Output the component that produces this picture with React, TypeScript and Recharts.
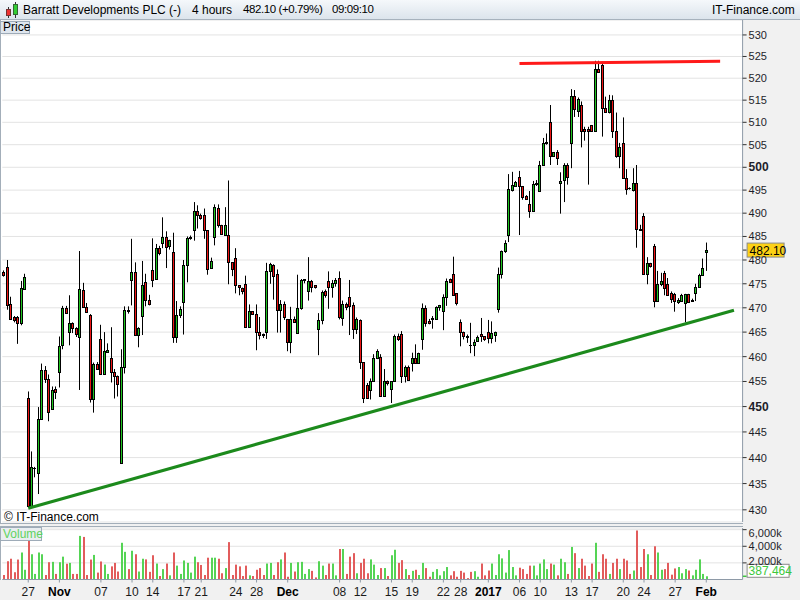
import React from 'react';
import { ComposedChart, Bar, XAxis, YAxis, CartesianGrid, ReferenceLine } from 'recharts';

// 4-hour candles, 25 Oct 2016 .. 1 Feb 2017
const opens = [
  477.4, 478.6, 470.7, 468.1, 468.2, 466.8, 473.9, 451.8, 430.8, 437.9,
  437.0, 447.6, 457.3, 455.5, 449.5, 453.4, 456.9, 462.3, 469.9, 465.1,
  466.9, 465.9, 464.0, 473.6, 470.1, 468.6, 451.6, 458.6, 463.6, 456.6,
  460.9, 459.8, 457.0, 456.0, 439.0, 458.0, 469.6, 475.7, 477.5, 464.5,
  468.3, 475.4, 471.7, 477.8, 475.9, 482.5, 483.6, 484.9, 482.9, 481.6,
  464.0, 468.6, 471.2, 479.0, 484.7, 486.3, 490.5, 489.5, 489.6, 486.3,
  478.3, 484.9, 491.1, 487.5, 485.3, 485.3, 479.5, 480.4, 474.7, 474.2,
  475.0, 466.1, 469.3, 468.8, 465.0, 464.7, 465.0, 477.6, 479.0, 477.1,
  469.5, 470.8, 467.7, 462.9, 467.7, 464.8, 470.0, 475.7, 473.5, 475.6,
  474.7, 465.6, 467.5, 473.5, 475.6, 474.4, 475.2, 476.3, 467.8, 470.8,
  472.2, 470.6, 465.6, 467.5, 458.9, 454.2, 453.2, 455.0, 459.8, 460.0,
  452.1, 455.0, 453.4, 455.0, 464.3, 464.6, 456.0, 457.9, 458.8, 459.7,
  458.8, 463.5, 470.0, 467.2, 467.6, 467.6, 470.2, 469.4, 472.3, 476.0,
  477.1, 473.0, 467.1, 465.1, 464.2, 462.4, 462.3, 463.2, 464.7, 464.2,
  465.0, 463.7, 464.5, 469.7, 477.0, 481.8, 485.3, 495.1, 495.9, 497.8,
  495.9, 493.7, 492.0, 490.4, 496.4, 494.9, 500.5, 505.4, 510.0, 502.5,
  503.3, 496.6, 497.1, 500.5, 505.4, 515.9, 512.5, 514.0, 508.5, 508.5,
  509.4, 508.0, 522.0, 523.1, 513.2, 512.3, 515.1, 508.0, 502.4, 505.4,
  497.6, 495.5, 495.1, 496.5, 486.6, 489.3, 477.0, 479.4, 482.9, 471.5,
  474.9, 477.2, 475.0, 473.1, 472.9, 471.2, 471.5, 471.0, 472.8, 471.4,
  473.1, 474.4, 476.8, 481.6,
];

const highs = [
  477.8, 480.0, 472.3, 468.3, 468.3, 475.6, 477.1, 453.0, 441.2, 438.2,
  449.9, 458.6, 458.1, 456.4, 454.0, 454.0, 464.1, 470.4, 470.4, 472.6,
  467.0, 466.0, 481.9, 475.2, 471.0, 468.7, 458.8, 458.9, 466.5, 465.0,
  462.7, 466.0, 457.5, 456.2, 461.5, 470.3, 470.3, 484.5, 479.5, 466.0,
  479.8, 477.1, 472.7, 484.6, 483.4, 483.0, 489.1, 486.1, 484.3, 485.8,
  471.4, 470.3, 480.0, 485.0, 485.2, 492.4, 491.7, 489.9, 491.0, 486.3,
  480.5, 491.9, 491.9, 487.5, 491.3, 497.1, 479.5, 482.5, 474.7, 474.2,
  476.7, 470.7, 469.3, 470.7, 468.1, 464.7, 479.4, 479.4, 479.1, 478.0,
  471.6, 471.3, 467.7, 470.2, 468.2, 476.9, 476.0, 476.0, 480.6, 475.8,
  474.7, 468.9, 473.6, 473.8, 477.6, 475.8, 476.2, 477.6, 471.5, 471.1,
  475.8, 471.1, 468.0, 467.6, 458.9, 454.7, 455.6, 460.5, 461.5, 460.5,
  457.5, 455.2, 455.0, 464.5, 464.7, 465.2, 458.2, 458.2, 460.8, 462.5,
  460.8, 470.9, 470.5, 467.7, 468.3, 470.3, 470.6, 472.8, 476.1, 476.1,
  480.7, 473.0, 467.6, 465.1, 464.5, 466.9, 463.5, 464.3, 467.9, 464.2,
  467.5, 467.2, 465.1, 478.4, 482.0, 484.2, 498.5, 499.0, 497.0, 499.2,
  495.9, 493.9, 494.8, 497.0, 497.2, 501.4, 506.5, 507.5, 513.9, 503.3,
  503.8, 498.9, 500.9, 500.9, 517.5, 517.3, 515.6, 514.7, 509.0, 509.0,
  509.4, 524.0, 524.0, 523.8, 515.8, 516.2, 516.1, 512.2, 505.4, 511.1,
  499.6, 495.6, 499.8, 500.5, 487.5, 490.0, 480.6, 479.4, 483.4, 477.7,
  477.3, 477.7, 476.2, 473.4, 473.1, 472.0, 472.9, 472.9, 472.9, 471.9,
  475.0, 477.1, 480.3, 483.7,
];

const lows = [
  476.5, 469.6, 467.5, 467.0, 462.6, 466.4, 473.9, 430.5, 430.5, 436.2,
  433.0, 447.4, 454.7, 447.1, 449.4, 451.5, 453.8, 461.5, 469.0, 462.3,
  464.8, 464.0, 453.3, 470.0, 469.2, 450.8, 448.8, 457.6, 456.6, 456.5,
  460.9, 454.8, 451.6, 452.0, 438.8, 456.6, 468.8, 470.5, 464.4, 461.9,
  464.4, 470.3, 470.5, 474.3, 475.9, 481.0, 482.5, 478.3, 482.2, 462.8,
  462.8, 467.9, 464.5, 475.3, 484.3, 484.1, 486.7, 488.6, 484.5, 476.9,
  478.3, 483.1, 486.9, 485.4, 485.3, 474.9, 476.6, 473.0, 472.6, 472.8,
  466.1, 466.1, 468.6, 461.3, 463.5, 463.8, 463.6, 475.0, 471.7, 464.9,
  464.9, 467.5, 461.1, 460.7, 466.9, 464.8, 469.6, 475.1, 471.5, 473.2,
  474.0, 460.3, 466.6, 472.1, 469.8, 472.1, 474.4, 467.6, 466.3, 469.5,
  464.4, 463.6, 464.6, 457.5, 450.7, 451.7, 451.4, 455.0, 459.5, 452.1,
  452.1, 454.2, 450.7, 455.0, 463.2, 454.7, 454.8, 455.2, 457.0, 458.8,
  458.8, 461.4, 466.1, 466.6, 465.7, 467.6, 469.4, 465.4, 470.4, 475.2,
  472.7, 470.5, 462.1, 463.5, 462.8, 460.7, 460.1, 463.0, 463.0, 463.2,
  462.7, 462.7, 463.0, 469.0, 476.1, 481.5, 483.8, 494.7, 495.9, 485.3,
  492.9, 492.9, 489.0, 490.4, 495.9, 494.9, 500.5, 505.0, 500.5, 502.4,
  500.5, 489.9, 492.4, 496.2, 499.8, 511.2, 511.2, 504.4, 505.9, 496.2,
  508.0, 508.0, 521.3, 506.8, 512.3, 512.0, 506.5, 502.1, 499.8, 497.6,
  494.0, 495.1, 494.7, 482.6, 486.2, 477.0, 474.9, 478.4, 470.1, 471.5,
  474.5, 472.6, 472.6, 471.0, 469.2, 470.8, 471.3, 467.0, 471.0, 471.3,
  471.4, 474.2, 476.8, 477.7,
];

const closes = [
  476.8, 470.6, 467.6, 467.5, 466.9, 474.2, 476.4, 430.8, 438.1, 438.0,
  447.6, 457.3, 455.5, 449.0, 453.3, 452.8, 462.1, 469.9, 469.0, 466.9,
  465.9, 464.6, 474.0, 470.1, 469.2, 451.6, 458.6, 457.6, 456.6, 461.2,
  461.4, 457.0, 456.0, 454.5, 458.0, 469.5, 469.4, 477.5, 464.5, 465.8,
  474.7, 471.6, 470.7, 475.7, 482.5, 481.4, 484.9, 482.7, 484.3, 464.0,
  468.6, 469.7, 479.0, 484.6, 484.9, 490.5, 489.5, 489.0, 486.3, 478.1,
  479.8, 491.3, 487.4, 485.5, 487.4, 479.5, 478.0, 474.7, 474.4, 473.4,
  466.1, 469.3, 468.8, 465.0, 464.5, 464.4, 477.6, 479.1, 476.6, 469.5,
  470.8, 468.1, 462.9, 467.7, 467.1, 470.0, 475.7, 475.9, 475.6, 474.4,
  474.4, 467.5, 473.3, 472.6, 474.4, 475.1, 475.7, 468.0, 470.8, 470.2,
  470.4, 465.6, 467.6, 458.9, 451.7, 451.7, 455.0, 459.8, 461.1, 452.1,
  455.0, 454.7, 455.0, 464.3, 463.5, 456.0, 457.9, 455.2, 459.7, 458.8,
  460.7, 470.0, 466.9, 466.9, 467.9, 470.2, 470.5, 472.3, 475.6, 475.3,
  472.7, 470.9, 465.1, 464.2, 464.0, 462.3, 463.0, 464.1, 464.3, 463.6,
  463.7, 464.8, 465.0, 477.0, 481.8, 483.6, 495.3, 496.1, 496.7, 495.8,
  493.6, 493.1, 490.4, 496.4, 496.6, 500.5, 505.4, 505.5, 502.5, 503.3,
  502.0, 497.0, 500.5, 497.8, 515.9, 513.0, 515.3, 508.0, 508.0, 508.0,
  508.0, 522.0, 521.5, 513.2, 512.3, 515.1, 508.0, 502.4, 504.4, 497.6,
  495.3, 495.4, 496.5, 486.5, 486.3, 477.0, 479.4, 478.7, 471.5, 474.9,
  475.6, 474.2, 472.6, 471.9, 471.5, 471.7, 472.6, 472.8, 471.2, 471.7,
  474.4, 476.8, 478.4, 482.1,
];

// volume in thousands of shares
const volumes = [
  540, 2200, 2500, 875, 2400, 3250, 1170, 4830, 3040, 670,
  3250, 3040, 540, 2080, 2125, 670, 2080, 2750, 1900, 2000,
  670, 670, 5250, 5125, 540, 2400, 2960, 830, 2170, 1800,
  670, 1580, 2000, 960, 4420, 3330, 1250, 3460, 3040, 960,
  2500, 2420, 920, 2920, 1920, 420, 1250, 1920, 500, 3250,
  1670, 670, 2290, 2000, 830, 2750, 2080, 1750, 540, 2625,
  2625, 2625, 2500, 750, 1375, 4500, 540, 1790, 1580, 420,
  1670, 500, 420, 1170, 1375, 540, 1920, 2000, 540, 2080,
  2420, 3250, 330, 2000, 960, 2080, 2125, 670, 1250, 1040,
  250, 2200, 1670, 540, 1920, 1920, 500, 3670, 3670, 670,
  2750, 3170, 750, 2000, 2500, 750, 2420, 1790, 540, 1375,
  1375, 420, 2920, 3580, 2000,
  2330, 1250, 540, 1040, 1170, 540, 2000, 1375, 330, 920,
  1250, 500, 1000, 1500, 500, 1000, 330, 1040, 830, 170,
  920, 1000, 330, 1920, 500, 1080, 1920, 540, 3040, 2540,
  830, 3540, 1500, 500, 1420, 1250, 670, 1670, 1670, 500,
  1920, 2420, 1250, 1920, 1790, 500, 2500, 2080, 670, 3920,
  3170, 1375, 2500, 1670, 420, 1920, 4420, 920, 3040, 2500,
  670, 2000, 2500, 1250, 2500, 2290, 670, 1080, 5900, 1500,
  3670, 3040, 540, 4000, 3250, 1170, 1250, 2000, 580, 1330,
  1500, 750, 1250, 1080, 500, 1170, 2420, 670, 387.464,
];

const dateTicks = [7, 16, 28, 37, 43, 52, 57, 67, 73, 82, 97, 103, 112, 118, 127, 132, 140, 149, 155, 164, 170, 179, 185, 194, 203];
const dateLabels = ['27', 'Nov', '07', '10', '14', '17', '21', '24', '28', 'Dec', '08', '12', '15', '19', '22', '28', '2017', '06', '10', '13', '17', '20', '24', '27', 'Feb'];
const boldLabels = ['Nov', 'Dec', '2017', 'Feb'];

const priceTicks = [430, 435, 440, 445, 450, 455, 460, 465, 470, 475, 480, 485, 490, 495, 500, 505, 510, 515, 520, 525, 530];
const volumeTicks = [2000, 4000, 6000];

// hand-drawn trendlines (candle slot, price)
const resistance = [{ x: 149, y: 523.4 }, { x: 207, y: 523.9 }];
const support = [{ x: 7, y: 430.3 }, { x: 211, y: 469.5 }];

const SLOTS = 214;
const FONT = "'Liberation Sans', Arial, sans-serif";
const UP = '#1fc41f';
const DOWN = '#ee1515';
const AXIS = '#8e9aa7';

const rows = Array.from({ length: SLOTS }, (_, i) =>
  i < closes.length
    ? { i, open: opens[i], high: highs[i], low: lows[i], close: closes[i], vol: volumes[i] }
    : { i }
);

const Candle = (props: any) => {
  const { x, y, width, height, payload } = props;
  if (!payload || payload.high == null) return null;
  const { open, high, low, close } = payload;
  const top = Math.min(y, y + height);
  const h = Math.abs(height);
  const cx = Math.round(x + width / 2 - 0.5);
  const span = Math.log(high) - Math.log(low);
  const py = (v: number) => (span > 0 ? top + (h * (Math.log(high) - Math.log(v))) / span : top);
  const yTop = Math.round(py(Math.max(open, close)));
  const yBot = Math.round(py(Math.min(open, close)));
  const up = close >= open;
  return (
    <g>
      <line x1={cx + 0.5} x2={cx + 0.5} y1={top} y2={top + h} stroke="#000" strokeWidth={1} />
      {yBot - yTop < 1 ? (
        <line x1={cx - 1} x2={cx + 2} y1={yTop + 0.5} y2={yTop + 0.5} stroke="#000" strokeWidth={1} />
      ) : (
        <rect x={cx - 0.5} y={yTop + 0.5} width={2} height={yBot - yTop} fill={up ? UP : DOWN} stroke="#000" strokeWidth={1} />
      )}
    </g>
  );
};

const VolumeBar = (props: any) => {
  const { x, y, width, height, payload } = props;
  if (!payload || payload.vol == null) return null;
  const cx = Math.round(x + width / 2 - 0.5);
  const up = payload.close >= payload.open;
  return <rect x={cx} y={y} width={2} height={height} fill={up ? '#55d455' : '#e25c5c'} />;
};

const PriceTick = (props: any) => {
  const { x, y, payload } = props;
  const bold = payload.value % 50 === 0;
  return (
    <text x={x} y={y} dy={4} textAnchor="start" fontFamily={FONT} fontSize={bold ? 12 : 11} fontWeight={bold ? 'bold' : 'normal'} fill="#1e1e2a">
      {payload.value}
    </text>
  );
};

const VolumeTick = (props: any) => {
  const { x, y, payload } = props;
  const shift = payload.value === 6000 ? 3 : payload.value === 2000 ? -2 : 0;
  return (
    <text x={x} y={y + shift} dy={4} textAnchor="start" fontFamily={FONT} fontSize={11} fill="#1e1e2a">
      {payload.value.toLocaleString('en-US')}k
    </text>
  );
};

const DateTick = (props: any) => {
  const { x, y, payload } = props;
  const label = dateLabels[dateTicks.indexOf(payload.value)];
  const bold = boldLabels.includes(label);
  return (
    <text x={x} y={y} dy={13} textAnchor="middle" fontFamily={FONT} fontSize={12} fontWeight={bold ? 'bold' : 'normal'} fill={bold ? '#000' : '#1a1a1a'}>
      {label}
    </text>
  );
};

const PriceTag = (props: any) => {
  const vb = props.viewBox;
  if (!vb) return null;
  const x0 = vb.x + vb.width;
  const y = vb.y;
  return (
    <g>
      <line x1={x0} x2={x0 + 4} y1={y} y2={y} stroke="#222" strokeWidth={1} />
      <rect x={x0 + 4.5} y={y - 7} width={37} height={14} fill="#fcd116" stroke="#8a8a8a" strokeWidth={1} />
      <text x={x0 + 7} y={y + 4.5} fontFamily={FONT} fontSize={12} fill="#000">
        {closes[closes.length - 1].toFixed(2)}
      </text>
    </g>
  );
};

const VolumeTag = (props: any) => {
  const vb = props.viewBox;
  if (!vb) return null;
  const x0 = vb.x + vb.width;
  const y = vb.y;
  const last = Math.round(volumes[volumes.length - 1] * 1000);
  return (
    <g>
      <line x1={x0} x2={x0 + 4} y1={y} y2={y} stroke="#3cc83c" strokeWidth={1.5} />
      <rect x={x0 + 4.5} y={y - 12} width={42} height={13} fill="#fff" stroke="#8a8a8a" strokeWidth={1} />
      <text x={x0 + 6} y={y - 1.5} fontFamily={FONT} fontSize={12} fill="#3cc83c">
        {last.toLocaleString('en-US')}
      </text>
    </g>
  );
};

const HeaderIcon = () => (
  <svg width={18} height={18} style={{ position: 'absolute', left: 3, top: 1 }}>
    <line x1={5.5} x2={5.5} y1={6} y2={17} stroke="#333" />
    <rect x={3.5} y={8.5} width={4} height={6} fill="#e33" stroke="#733" />
    <line x1={12.5} x2={12.5} y1={1} y2={17} stroke="#333" />
    <rect x={10.5} y={3.5} width={4} height={10} fill="#3c3" stroke="#363" />
  </svg>
);

const headerText: React.CSSProperties = { position: 'absolute', top: 3, fontSize: 12, color: '#000', whiteSpace: 'nowrap' };
const headerNum: React.CSSProperties = { ...headerText, fontSize: 11.5, letterSpacing: -0.4 };

export default function App() {
  return (
    <div style={{ position: 'absolute', left: 0, top: 0, width: 800, height: 600, background: '#f1f1f1', overflow: 'hidden', fontFamily: FONT }}>
      {/* title bar */}
      <div style={{ position: 'absolute', left: 0, top: 0, width: 800, height: 20, boxSizing: 'border-box', background: 'linear-gradient(#f5f8fb, #dce4ec)', borderBottom: '1px solid #a7b2bd' }}>
        <HeaderIcon />
        <span style={{ ...headerText, left: 23 }}>Barratt Developments PLC (-)</span>
        <span style={{ ...headerText, left: 192 }}>4 hours</span>
        <span style={{ ...headerNum, left: 243 }}>482.10 (+0.79%)</span>
        <span style={{ ...headerNum, left: 332 }}>09:09:10</span>
        <span style={{ ...headerText, left: 712 }}>IT-Finance.com</span>
      </div>

      {/* panel backgrounds */}
      <div style={{ position: 'absolute', left: 0, top: 20, width: 743, height: 504, boxSizing: 'border-box', background: '#fff', borderLeft: '1px solid #a3aeb9', borderBottom: '1px solid #a3aeb9' }} />
      <div style={{ position: 'absolute', left: 0, top: 526, width: 743, height: 54, boxSizing: 'border-box', background: '#fff', borderLeft: '1px solid #a3aeb9', borderTop: '1px solid #a3aeb9' }} />

      {/* price panel */}
      <div style={{ position: 'absolute', left: 0, top: 20 }}>
        <ComposedChart width={800} height={505} data={rows} margin={{ top: 0, right: 0, bottom: 3, left: 2.3 }} barCategoryGap={0}>
          <CartesianGrid vertical={false} stroke="#e3e3e3" />
          <XAxis dataKey="i" hide />
          <YAxis
            orientation="right"
            scale="log"
            domain={[427.7, 533.5]}
            allowDataOverflow
            ticks={priceTicks}
            interval={0}
            width={57.4}
            tick={<PriceTick />}
            tickSize={4}
            tickMargin={2}
            axisLine={{ stroke: AXIS }}
            tickLine={{ stroke: '#333' }}
          />
          <Bar dataKey={(d: any) => (d.high != null ? [d.low, d.high] : undefined)} shape={<Candle />} isAnimationActive={false} />
          <ReferenceLine segment={resistance} stroke="#ff1a1a" strokeWidth={3} />
          <ReferenceLine segment={support} stroke="#1c8a1c" strokeWidth={3.2} />
          <ReferenceLine y={closes[closes.length - 1]} stroke="none" label={<PriceTag />} />
        </ComposedChart>
      </div>

      {/* volume panel */}
      <div style={{ position: 'absolute', left: 0, top: 525 }}>
        <ComposedChart width={800} height={75} data={rows} margin={{ top: 3, right: 0, bottom: 0, left: 2.3 }} barCategoryGap={0}>
          <CartesianGrid vertical={false} stroke="#e3e3e3" />
          <XAxis
            dataKey="i"
            ticks={dateTicks}
            interval={0}
            height={20.5}
            tick={<DateTick />}
            tickSize={3}
            tickMargin={0}
            axisLine={{ stroke: AXIS }}
            tickLine={{ stroke: AXIS }}
          />
          <YAxis
            orientation="right"
            domain={[0, 6200]}
            allowDataOverflow
            ticks={volumeTicks}
            interval={0}
            width={57.4}
            tick={<VolumeTick />}
            tickSize={4}
            tickMargin={2}
            axisLine={{ stroke: AXIS }}
            tickLine={{ stroke: '#333' }}
          />
          <Bar dataKey="vol" shape={<VolumeBar />} isAnimationActive={false} />
          <ReferenceLine y={volumes[volumes.length - 1]} stroke="none" label={<VolumeTag />} />
        </ComposedChart>
      </div>

      {/* panel captions */}
      <div style={{ position: 'absolute', left: 0, top: 21, width: 30, height: 13, boxSizing: 'border-box', background: '#dfe6ee', border: '1px solid #9eabb8', fontSize: 12, lineHeight: '11px', paddingLeft: 2 }}>
        Price
      </div>
      <div style={{ position: 'absolute', left: 4, top: 510, fontSize: 12, color: '#000' }}>© IT-Finance.com</div>
      <div style={{ position: 'absolute', left: 0, top: 527, width: 42, height: 14, boxSizing: 'border-box', background: '#e9edf1', border: '1px solid #9eabb8', fontSize: 12, lineHeight: '12px', paddingLeft: 2, color: '#5fd35f' }}>
        Volume
      </div>
    </div>
  );
}
